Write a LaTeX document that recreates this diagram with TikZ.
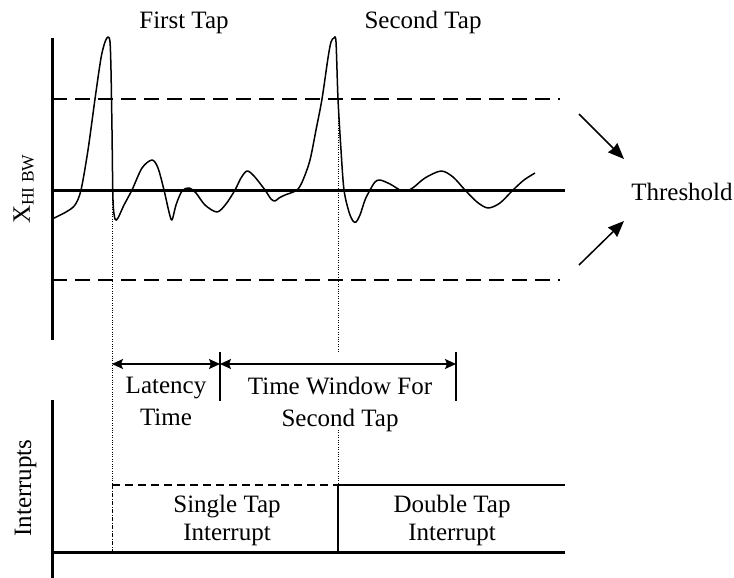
\documentclass[tikz,border=0pt]{standalone}
\usepackage{fontspec}
\setmainfont{Liberation Serif}
\usetikzlibrary{arrows.meta}
\begin{document}
\begin{tikzpicture}[x=1pt,y=-1pt,
  axisline/.style={line width=3pt},
  threshline/.style={line width=1.4pt, dash pattern=on 15pt off 8pt},
  irqdash/.style={line width=1.4pt, dash pattern=on 8pt off 5pt},
  signal/.style={line width=1.5pt, line join=round},
  guide/.style={line width=1pt, dash pattern=on 1pt off 1.4pt},
  dashdotguide/.style={line width=1pt, dash pattern=on 4pt off 1.5pt on 1pt off 1.5pt},
  dimline/.style={line width=1.4pt, {Stealth[length=11pt,width=10pt,inset=2pt]}-{Stealth[length=11pt,width=10pt,inset=2pt]}},
  tickline/.style={line width=1.3pt},
  pointer/.style={line width=1.5pt, -{Stealth[length=16pt,width=13pt,inset=1pt]}},
  lbl/.style={font=\fontsize{25}{30}\selectfont, inner sep=0pt},
  twoline/.style={font=\fontsize{25}{#1}\selectfont, inner sep=0pt, align=center}]
\useasboundingbox (0,0) rectangle (734,578);

% axes of the acceleration plot
\coordinate (ytop) at (52,38);
\coordinate (ybot) at (52,340);
\coordinate (zl) at (52,190);
\coordinate (zr) at (565,190);
\draw[axisline] (ytop) -- (ybot);
\draw[axisline] (zl) -- (zr);

% threshold levels
\coordinate (thl) at (52,99);
\coordinate (thr) at (560,99);
\coordinate (tll) at (52,280);
\coordinate (tlr) at (560,280);
\draw[threshline] (thl) -- (thr);
\draw[threshline] (tll) -- (tlr);

% acceleration signal with two taps
\draw[signal] plot[smooth, tension=0.5] coordinates {
  (52,219) (66,212) (75,205) (81,190) (88,150) (95,99) (101,58) (105,42)
  (108,37) (110,42) (111,70) (112,130) (113,200) (115,219) (118,218)
  (124,205) (132,190) (142,168) (152,160) (158,168) (164,190) (169,212)
  (172,220) (176,205) (182,191) (189,188) (196,193) (205,205) (217,212)
  (226,204) (235,190) (241,178) (247,171) (254,176) (265,190) (271,199)
  (275,201) (279,198) (285,195) (297,190) (303,180) (310,160) (316,130)
  (322,99) (328,58) (331,42) (334,38) (336,42) (338,99) (341,150) (344,190)
  (349,212) (353,221) (356,222) (360,215) (365,200) (370,190) (375,182)
  (380,180) (390,184) (400,190) (407,191) (414,187) (425,178) (441,171)
  (453,177) (465,190) (477,202) (488,208) (500,203) (513,190) (524,180)
  (535,173)};

% event markers
\coordinate (g1a) at (112,190);
\coordinate (g1m) at (112,485);
\coordinate (g1b) at (112,552);
\coordinate (g2a) at (338,99);
\coordinate (g2b) at (338,353);
\coordinate (g2c) at (338,430);
\coordinate (g2d) at (338,485);
\draw[guide] (g1a) -- (g1m);
\draw[dashdotguide] (g1m) -- (g1b);
\draw[guide] (g2a) -- (g2b);
\draw[guide] (g2c) -- (g2d);

% latency and time window dimensions
\coordinate (dA) at (112,364);
\coordinate (dB) at (220,364);
\coordinate (dC) at (456,364);
\coordinate (tkBt) at (220,352);
\coordinate (tkBb) at (220,401);
\coordinate (tkCt) at (456,352);
\coordinate (tkCb) at (456,401);
\draw[tickline] (tkBt) -- (tkBb);
\draw[tickline] (tkCt) -- (tkCb);
\draw[dimline] (dA) -- (dB);
\draw[dimline] (dB) -- (dC);

% interrupt plot
\coordinate (itop) at (52,400);
\coordinate (ibot) at (52,578);
\coordinate (il) at (52,552);
\coordinate (ir) at (565,552);
\draw[axisline] (itop) -- (ibot);
\draw[axisline] (il) -- (ir);
\coordinate (s1) at (112,485);
\coordinate (s2) at (338,485);
\coordinate (s3) at (565,485);
\coordinate (s2b) at (338,552);
\draw[irqdash] (s1) -- (s2);
\draw[line width=1.4pt] (s2) -- (s3);
\draw[line width=1.4pt] (s2) -- (s2b);

% labels
\node[lbl, anchor=base] (first) at (184,29) {First Tap};
\node[lbl, anchor=base] (second) at (423,29) {Second Tap};
\node[lbl, anchor=base] (threshold) at (682,200) {Threshold};
\node[lbl, anchor=base, rotate=90] (xlabel) at (30,189) {X\textsubscript{HI BW}};
\node[lbl, anchor=base, rotate=90] (ilabel) at (31,488) {Interrupts};
\node[twoline=32pt] (latency) at (166,401) {Latency\\Time};
\node[twoline=32pt] (window) at (340,404) {Time Window For\\Second Tap};
\node[twoline=28pt] (single) at (227,520) {Single Tap\\Interrupt};
\node[twoline=28pt] (double) at (452,520) {Double Tap\\Interrupt};

% threshold pointers
\coordinate (pu) at (579,114);
\coordinate (pl) at (579,265);
\coordinate (pue) at (624,159);
\coordinate (ple) at (624,221);
\draw[pointer] (pu) -- (pue);
\draw[pointer] (pl) -- (ple);
\end{tikzpicture}
\end{document}
